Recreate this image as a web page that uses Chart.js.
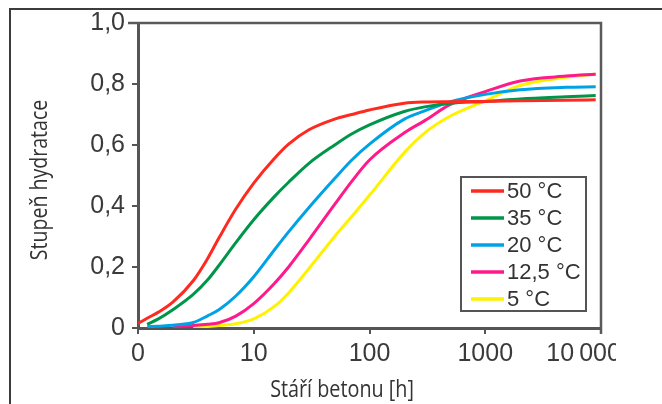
<!DOCTYPE html>
<html>
<head>
<meta charset="utf-8">
<script src="https://cdn.jsdelivr.net/npm/chart.js@4.4.1/dist/chart.umd.min.js"></script>
<style>
  html, body { margin: 0; padding: 0; background: #fff; }
  #clip { position: absolute; left: 0; top: 0; width: 616px; height: 404px; overflow: hidden; }
  #rahmen { position: absolute; left: 9px; top: 8px; width: 653px; height: 396px; border-left: 2px solid #3c3c3c; border-top: 2px solid #3c3c3c; }
</style>
</head>
<body>
<div id="clip"><canvas id="graf" width="662" height="404"></canvas></div>
<div id="rahmen"></div>
<script>
// Stáří betonu [h] – logaritmická osa
const hodiny = [1, 1.2, 1.5, 2, 3, 4, 5, 7, 10, 15, 20, 30, 50, 70, 100, 200, 300, 500, 1000, 2000, 5000, 9000];

// Stupeň hydratace pro jednotlivé teploty
const t50  = [0.015, 0.032, 0.052, 0.085, 0.155, 0.228, 0.295, 0.39, 0.475, 0.555, 0.603, 0.65, 0.685, 0.70, 0.715, 0.737, 0.741, 0.742, 0.743, 0.745, 0.747, 0.748];
const t35  = [null, 0.012, 0.03, 0.06, 0.11, 0.158, 0.205, 0.28, 0.355, 0.43, 0.478, 0.54, 0.60, 0.636, 0.666, 0.71, 0.725, 0.737, 0.743, 0.751, 0.758, 0.762];
const t20  = [null, 0.004, 0.006, 0.009, 0.018, 0.04, 0.06, 0.105, 0.168, 0.255, 0.315, 0.395, 0.49, 0.55, 0.603, 0.685, 0.712, 0.742, 0.766, 0.781, 0.789, 0.791];
const t125 = [null, null, null, 0.004, 0.008, 0.012, 0.017, 0.039, 0.08, 0.145, 0.20, 0.289, 0.405, 0.48, 0.551, 0.64, 0.68, 0.733, 0.775, 0.81, 0.826, 0.832];
const t5   = [null, null, null, null, 0.002, 0.005, 0.008, 0.014, 0.03, 0.07, 0.115, 0.195, 0.30, 0.365, 0.435, 0.575, 0.64, 0.695, 0.745, 0.795, 0.822, 0.833];

const popisky = ['50 °C', '35 °C', '20 °C', '12,5 °C', '5 °C'];
const barvy = ['#ff2a1f', '#00964a', '#00a2e6', '#ff1a8c', '#fff200'];

const xHodnoty = [1, 10, 100, 1000, 10000];
const xPopisky = ['0', '10', '100', '1000', '10\u2009000' + '\u00a0'.repeat(5)];
const yHodnoty = [0, 0.2, 0.4, 0.6, 0.8, 1.0];
const yPopisky = ['0', '0,2', '0,4', '0,6', '0,8', '1,0'];

const xTitel = 'Stáří betonu [h]';
const yTitel = 'Stupeň hydratace';

const fontOsy = '"Liberation Sans", Arial, sans-serif';
const fontTitel = '"Open Sans", sans-serif';

function body(rada) {
    return hodiny.map((h, i) => ({ x: h, y: rada[i] })).filter(p => p.y !== null);
}

const rady = [t50, t35, t20, t125, t5];
const datasets = rady.map((rada, i) => ({
    label: popisky[i],
    data: body(rada),
    borderColor: barvy[i],
    borderWidth: 3,
    pointRadius: 0,
    fill: false,
    cubicInterpolationMode: 'monotone'
}));

// horní a pravá hrana grafu
const rahmenPlugin = {
    id: 'rahmen',
    beforeDatasetsDraw(chart) {
        const { ctx, chartArea: a } = chart;
        ctx.save();
        ctx.strokeStyle = '#5a5a5a';
        ctx.lineWidth = 2.5;
        ctx.beginPath();
        ctx.moveTo(a.left - 10, a.top);
        ctx.lineTo(a.right, a.top);
        ctx.lineTo(a.right, a.bottom + 6);
        ctx.stroke();
        ctx.restore();
    }
};

// legenda v rámečku uvnitř grafu
const legendaPlugin = {
    id: 'legenda',
    afterDatasetsDraw(chart) {
        const { ctx, chartArea: a } = chart;
        const x0 = a.right - 140, y0 = a.top + 154, w = 125, h = 134;
        ctx.save();
        ctx.fillStyle = '#fff';
        ctx.fillRect(x0, y0, w, h);
        ctx.strokeStyle = '#555';
        ctx.lineWidth = 2;
        ctx.strokeRect(x0, y0, w, h);
        ctx.font = '22px ' + fontOsy;
        ctx.textBaseline = 'middle';
        chart.data.datasets.forEach((ds, i) => {
            const y = y0 + 14 + i * 27;
            ctx.strokeStyle = ds.borderColor;
            ctx.lineWidth = 3.5;
            ctx.beginPath();
            ctx.moveTo(x0 + 10, y);
            ctx.lineTo(x0 + 43, y);
            ctx.stroke();
            ctx.fillStyle = '#333';
            ctx.fillText(ds.label, x0 + 46, y + 1);
        });
        ctx.restore();
    }
};

// popisky os (užší písmo)
const titelPlugin = {
    id: 'titel',
    afterDraw(chart) {
        const { ctx } = chart;
        ctx.save();
        ctx.fillStyle = '#333';
        ctx.font = '23px ' + fontTitel;
        ctx.textAlign = 'center';
        ctx.textBaseline = 'alphabetic';
        ctx.save();
        ctx.translate(342, 397);
        ctx.scale(0.86, 1);
        ctx.fillText(xTitel, 0, 0);
        ctx.restore();
        ctx.translate(47, 180);
        ctx.rotate(-Math.PI / 2);
        ctx.scale(0.85, 1);
        ctx.fillText(yTitel, 0, 0);
        ctx.restore();
    }
};

new Chart(document.getElementById('graf'), {
    type: 'line',
    data: { datasets: datasets },
    options: {
        responsive: false,
        animation: false,
        devicePixelRatio: 1,
        layout: { padding: { left: 0, top: 23, right: 61, bottom: 0 } },
        plugins: {
            legend: { display: false },
            tooltip: { enabled: false }
        },
        scales: {
            x: {
                type: 'logarithmic',
                min: 1,
                max: 10000,
                afterBuildTicks: s => { s.ticks = xHodnoty.map(v => ({ value: v })); },
                afterFit: s => { s.height = 76; },
                ticks: {
                    autoSkip: false,
                    maxRotation: 0,
                    padding: 5,
                    color: '#3a3a3a',
                    font: { family: fontOsy, size: 25 },
                    callback: (v, i) => xPopisky[i]
                },
                grid: { drawOnChartArea: false, drawTicks: true, tickLength: 6, color: '#555', lineWidth: 2 },
                border: { display: true, color: '#555', width: 3 }
            },
            y: {
                type: 'linear',
                min: 0,
                max: 1,
                afterBuildTicks: s => { s.ticks = yHodnoty.map(v => ({ value: v })); },
                afterFit: s => { s.width = 138; },
                ticks: {
                    padding: 7,
                    color: '#3a3a3a',
                    font: { family: fontOsy, size: 25 },
                    callback: (v, i) => yPopisky[i]
                },
                grid: { drawOnChartArea: false, drawTicks: true, tickLength: 6, color: '#555', lineWidth: 2 },
                border: { display: true, color: '#555', width: 3 }
            }
        }
    },
    plugins: [rahmenPlugin, legendaPlugin, titelPlugin]
});
</script>
</body>
</html>
